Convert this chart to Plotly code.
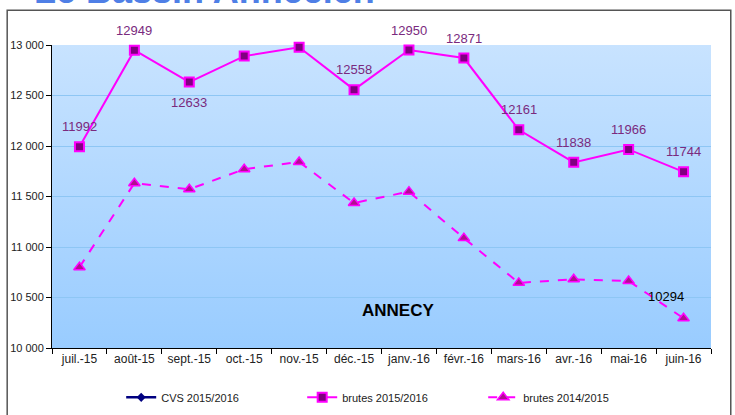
import plotly.graph_objects as go

months = ["juil.-15", "août-15", "sept.-15", "oct.-15", "nov.-15", "déc.-15",
          "janv.-16", "févr.-16", "mars-16", "avr.-16", "mai-16", "juin-16"]
cvs_2015_2016 = [None] * 12
brutes_2015_2016 = [11992, 12949, 12633, 12890, 12978, 12558, 12950, 12871, 12161, 11838, 11966, 11744]
labels_2015_2016 = ["11992", "12949", "12633", "", "", "12558", "12950", "12871", "12161", "11838", "11966", "11744"]
brutes_2014_2015 = [10800, 11632, 11572, 11770, 11842, 11436, 11548, 11088, 10645, 10680, 10664, 10294]
y_ticks = [10000, 10500, 11000, 11500, 12000, 12500, 13000]

FONT = "Liberation Sans, Arial, sans-serif"
# label placement style: 1 = above the point, -1 = below
label_side = [1, 1, -1, 1, 1, 1, 1, 1, 1, 1, 1, 1]

fig = go.Figure()
fig.add_trace(go.Scatter(x=months, y=cvs_2015_2016, name="CVS 2015/2016", mode="lines+markers",
                         line=dict(color="#000080", width=2.5),
                         marker=dict(symbol="diamond", size=7, color="#000080")))
fig.add_trace(go.Scatter(x=months, y=brutes_2015_2016, name="brutes 2015/2016", mode="lines+markers",
                         cliponaxis=False,
                         line=dict(color="#FF00FF", width=2),
                         marker=dict(symbol="square", size=9, color="#800080",
                                     line=dict(color="#FF00FF", width=2))))
fig.add_trace(go.Scatter(x=months, y=brutes_2014_2015, name="brutes 2014/2015", mode="lines+markers",
                         cliponaxis=False,
                         line=dict(color="#FF00FF", width=2, dash="dash"),
                         marker=dict(symbol="triangle-up", size=10, color="#B0108F",
                                     line=dict(color="#FF00FF", width=1.5))))

annotations = []
for m, v, t, s in zip(months, brutes_2015_2016, labels_2015_2016, label_side):
    if t:
        annotations.append(dict(text=t, x=m, y=v, yshift=20 * s, showarrow=False,
                                font=dict(family=FONT, size=13, color="#7A2A7E")))
annotations += [
    dict(text=str(brutes_2014_2015[-1]), x=months[-1], y=brutes_2014_2015[-1],
         xshift=-18, yshift=22, showarrow=False,
         font=dict(family=FONT, size=13, color="black")),
    dict(text="<b>ANNECY</b>", xref="paper", yref="paper", x=0.525, y=0.085,
         showarrow=False, font=dict(family=FONT, size=17, color="black")),
    dict(text="<b>Le Bassin Annécien</b>", xref="paper", yref="paper", x=-0.03, xanchor="left",
         y=1.104, yanchor="bottom", showarrow=False,
         font=dict(family=FONT, size=36, color="#4F7FE6")),
]

grad_svg = ("data:image/svg+xml;utf8,"
            "<svg xmlns='http://www.w3.org/2000/svg' width='100' height='100' preserveAspectRatio='none'>"
            "<defs><linearGradient id='g' x1='0' y1='0' x2='0' y2='1'>"
            "<stop offset='0' stop-color='%23C8E3FF'/><stop offset='1' stop-color='%2399CCFF'/>"
            "</linearGradient></defs><rect width='100' height='100' fill='url(%23g)'/></svg>")

fig.update_layout(
    width=735, height=415,
    margin=dict(l=52, r=24, t=45, b=67, autoexpand=False),
    paper_bgcolor="white", plot_bgcolor="rgba(0,0,0,0)",
    separators=", ",
    showlegend=True,
    legend=dict(orientation="h", x=0.105, xanchor="left", y=-0.115, yanchor="top",
                entrywidth=136, bgcolor="rgba(0,0,0,0)",
                font=dict(family=FONT, size=11, color="#222")),
    images=[dict(source=grad_svg, xref="paper", yref="paper", x=0, y=1, sizex=1, sizey=1,
                 sizing="stretch", layer="below")],
    xaxis=dict(range=[-0.5, 11.5], showline=True, linecolor="black", linewidth=1, ticks="outside",
               tickson="boundaries", ticklen=5, tickcolor="black", showgrid=False, tickangle=0,
               automargin=False, tickfont=dict(family=FONT, size=12, color="#222")),
    yaxis=dict(range=[10000, 13000], tickvals=y_ticks, tickformat=",d", automargin=False,
               showline=True, linecolor="black", linewidth=1, ticks="outside", ticklen=5,
               tickcolor="black", gridcolor="#8EC6F4", gridwidth=1, zeroline=False,
               tickfont=dict(family=FONT, size=11, color="#222")),
    annotations=annotations,
    shapes=[dict(type="rect", xref="paper", yref="paper", x0=-0.068, x1=1.03, y0=-0.25, y1=1.115,
                 line=dict(color="#555", width=1.5), fillcolor="rgba(0,0,0,0)", layer="below")],
)

fig.write_html("out.html", config={"displayModeBar": False},
               post_script="document.body.style.margin='0';document.body.style.overflow='hidden';")
